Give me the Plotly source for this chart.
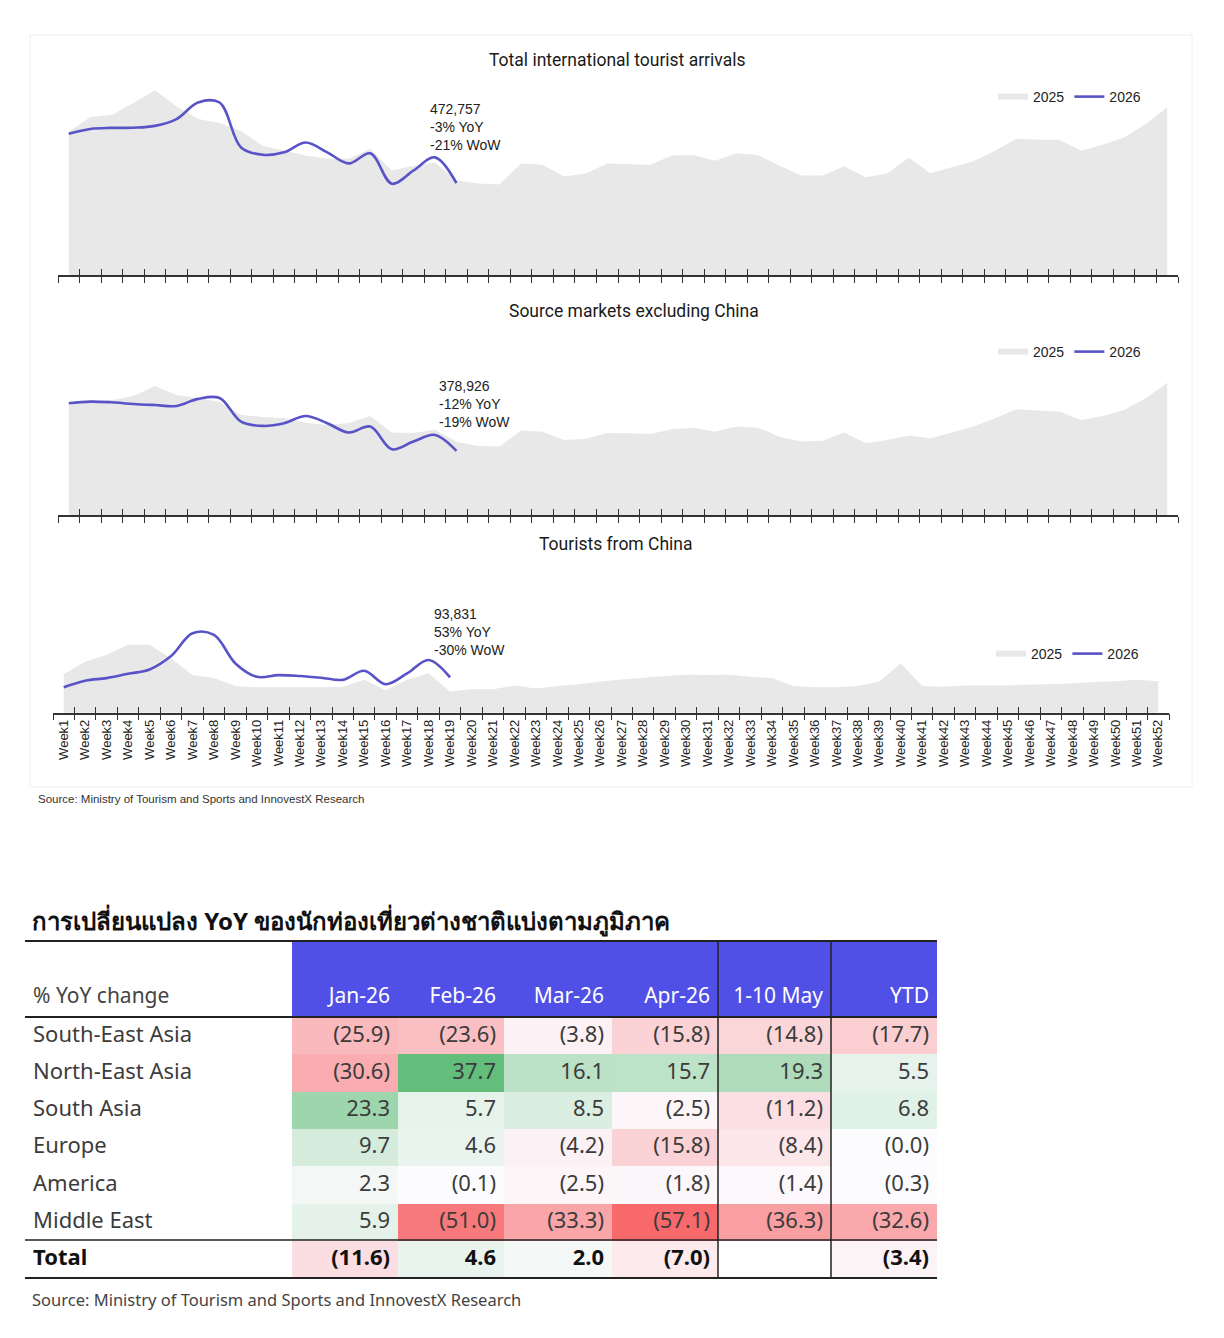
import math
import plotly.graph_objects as go

# the page body has an 8px margin, so the figure is drawn 8px in from the corner
OFF = 8
W, H = 1224 - 2 * OFF, 1338 - OFF

weeks = [f"Week{i}" for i in range(1, 53)]

# weekly arrivals
total_2025 = [722600, 795000, 805000, 863000, 926000, 848000, 785000, 766000, 727000, 655000,
              631000, 607000, 592000, 592000, 640000, 534000, 558000, 573000, 487000, 471000,
              466000, 569000, 563000, 505000, 520000, 568000, 565000, 563000, 607000, 610000,
              582000, 618000, 610000, 558000, 510000, 510000, 555000, 502000, 520000, 597000,
              521000, 550000, 579000, 631000, 689000, 684000, 684000, 631000, 660000, 695000,
              761000, 843000]
total_2026 = [714000, 737000, 742000, 743000, 752000, 785000, 866000, 866000, 647000, 611000,
              623000, 671000, 623000, 569000, 618000, 470000, 534000, 598427, 472757]

exchina_2025 = [634500, 647000, 662000, 684000, 740000, 690000, 673000, 651000, 579000, 568000,
                562000, 536000, 523000, 534000, 573000, 481000, 479000, 496000, 430598, 407000,
                403000, 492000, 486000, 440000, 446000, 479000, 477000, 473000, 499000, 508000,
                486000, 514000, 508000, 458000, 431000, 436000, 481000, 422000, 440000, 464000,
                449000, 481000, 514000, 561000, 611000, 603000, 597000, 551000, 573000, 607000,
                672000, 758000]
exchina_2026 = [644000, 653000, 649000, 640000, 634000, 629000, 668000, 673000, 542000, 518000,
                533000, 573000, 533000, 481000, 514000, 388000, 431000, 467810, 378926]

china_2025 = [101600, 130000, 146000, 169000, 169000, 138000, 99000, 92000, 74000, 71000,
              71000, 71000, 71000, 72000, 88000, 64000, 88000, 103000, 61327, 66000,
              66000, 75000, 68000, 74000, 78000, 84000, 89000, 93000, 97000, 100000,
              99000, 100000, 95000, 92000, 74000, 71000, 71000, 74000, 84000, 126000,
              74000, 72000, 75000, 75000, 75000, 77000, 78000, 80000, 83000, 85000,
              88000, 85000]
china_2026 = [70700, 86000, 92000, 102000, 112000, 143000, 196000, 192000, 126000, 95000,
              99000, 97000, 93000, 88000, 109000, 78000, 103000, 134044, 93831]

# YoY table
regions = ["South-East Asia", "North-East Asia", "South Asia", "Europe", "America", "Middle East"]
periods = ["Jan-26", "Feb-26", "Mar-26", "Apr-26", "1-10\u00a0May", "YTD"]
jan26 = [-25.9, -30.6, 23.3, 9.7, 2.3, 5.9]
feb26 = [-23.6, 37.7, 5.7, 4.6, -0.1, -51.0]
mar26 = [-3.8, 16.1, 8.5, -4.2, -2.5, -33.3]
apr26 = [-15.8, 15.7, -2.5, -15.8, -1.8, -57.1]
may26 = [-14.8, 19.3, -11.2, -8.4, -1.4, -36.3]
ytd26 = [-17.7, 5.5, 6.8, -0.0, -0.3, -32.6]
total_row = [-11.6, 4.6, 2.0, -7.0, None, -3.4]


def px_x(p):
    return (p - OFF) / W


def px_y(p):
    return 1 - (p - OFF) / H


GRAY = "#e8e8e8"
PURPLE = "#5853c6"
CHART_FONT = "Liberation Sans, Arial, sans-serif"

fig = go.Figure()

charts = [
    # title, 2025, 2026, label, y range, x px, y px (top, axis), title pos, note pos, legend pos
    ("Total international tourist arrivals", total_2025, total_2026,
     "472,757<br>-3% YoY<br>-21% WoW", [25000, 1000000], (58, 1178), (75, 275), (617, 60), (428, 99), (993, 97)),
    ("Source markets excluding China", exchina_2025, exchina_2026,
     "378,926<br>-12% YoY<br>-19% WoW", [23000, 1023000], (58, 1178), (335, 515), (634, 311), (437, 376), (993, 352)),
    ("Tourists from China", china_2025, china_2026,
     "93,831<br>53% YoY<br>-30% WoW", [12000, 245000], (53, 1169), (612, 712.7), (616, 544), (432, 604), (991, 654)),
]

annotations = []
for i, (title, y25, y26, note, yr, xpx, ypx, tpos, npos, lpos) in enumerate(charts, start=1):
    sfx = "" if i == 1 else str(i)
    lg = "legend" if i == 1 else f"legend{i}"
    fig.add_trace(go.Scatter(x=weeks, y=y25, name="2025", mode="none", fill="tozeroy",
                             fillcolor=GRAY, xaxis=f"x{sfx}", yaxis=f"y{sfx}", legend=lg,
                             hoverinfo="skip"))
    fig.add_trace(go.Scatter(x=weeks[:len(y26)], y=y26, name="2026", mode="lines",
                             line=dict(color=PURPLE, width=2.6, shape="spline", smoothing=1.0),
                             xaxis=f"x{sfx}", yaxis=f"y{sfx}", legend=lg))
    # invisible trace so the overlay axis (upper half of the ticks) gets drawn
    fig.add_trace(go.Scatter(x=[0], y=[yr[0]], mode="markers", marker=dict(opacity=0),
                             xaxis=f"x{i + 3}", yaxis=f"y{sfx}", showlegend=False,
                             hoverinfo="skip"))
    xdom = [px_x(xpx[0]), px_x(xpx[1])]
    ydom = [px_y(ypx[1]), px_y(ypx[0])]
    fig.layout[f"xaxis{sfx}"] = dict(
        domain=xdom, anchor=f"y{sfx}", type="category", range=[-0.5, 51.5],
        tickson="boundaries", ticks="outside", ticklen=6, tickwidth=1.3, tickcolor="#333",
        showline=True, linecolor="#333", linewidth=1.5, showgrid=False, zeroline=False,
        showticklabels=(i == 3), tickangle=-90,
        tickfont=dict(family=CHART_FONT, size=13, color="#222"),
    )
    fig.layout[f"xaxis{i + 3}"] = dict(
        overlaying=f"x{sfx}", anchor=f"y{sfx}", type="linear", range=[-0.5, 51.5],
        tick0=-0.5, dtick=1, ticks="inside", ticklen=6, tickwidth=1.3, tickcolor="#333",
        showline=False, showgrid=False, zeroline=False, showticklabels=False,
    )
    fig.layout[f"yaxis{sfx}"] = dict(domain=ydom, anchor=f"x{sfx}", range=yr, visible=False,
                                     showgrid=False)
    fig.layout[lg] = dict(
        orientation="h", x=px_x(lpos[0]), y=px_y(lpos[1]), xanchor="left", yanchor="middle",
        bgcolor="rgba(0,0,0,0)", font=dict(family=CHART_FONT, size=14, color="#222"),
        itemwidth=30, tracegroupgap=0,
    )
    annotations.append(dict(
        text=title, xref="paper", yref="paper", x=px_x(tpos[0]), y=px_y(tpos[1]),
        xanchor="center", yanchor="middle", showarrow=False,
        font=dict(family="Roboto, sans-serif", size=17.5, color="#1a1a1a"),
    ))
    annotations.append(dict(
        text=note, xref="paper", yref="paper", x=px_x(npos[0]), y=px_y(npos[1]),
        xanchor="left", yanchor="top", align="left", showarrow=False,
        font=dict(family=CHART_FONT, size=14, color="#222"),
    ))

annotations.append(dict(
    text="Source: Ministry of Tourism and Sports and InnovestX Research",
    xref="paper", yref="paper", x=px_x(36), y=px_y(799), xanchor="left", yanchor="middle",
    showarrow=False, font=dict(family=CHART_FONT, size=11.5, color="#333"),
))

# ---- table ----
cols = [jan26, feb26, mar26, apr26, may26, ytd26]
all_vals = [v for c in cols for v in c] + [v for v in total_row if v is not None]
lo, hi = min(all_vals), max(all_vals)


def fmt(v):
    if v is None:
        return ""
    if math.copysign(1, v) < 0:
        return f"({abs(v):.1f})"
    return f"{v:.1f}"


def mix(c1, c2, t):
    return "rgb(%d,%d,%d)" % tuple(round(a + (b - a) * t) for a, b in zip(c1, c2))


def cell_color(v):
    white = (252, 252, 255)
    if v is None:
        return "white"
    if v < 0:
        return mix(white, (248, 105, 107), v / lo)
    return mix(white, (99, 190, 123), v / hi)


n = len(regions)
aligns = ["left"] + ["right"] * len(periods)
widths = [267, 106, 106, 108, 106, 113, 106]
TFONT = "Noto Sans, sans-serif"
NOLINE = dict(width=0, color="rgba(0,0,0,0)")

fig.add_trace(go.Table(
    domain=dict(x=[px_x(25), px_x(937)], y=[px_y(1244), px_y(942)]),
    columnwidth=widths,
    header=dict(
        values=[["", "% YoY change"]] + [["", p] for p in periods],
        fill_color=[["white", "white"]] + [["#5050e6", "#5050e6"] for _ in periods],
        font=dict(family=TFONT, size=21, color=["#444"] + ["white"] * len(periods)),
        align=aligns, height=37.5, line=NOLINE,
    ),
    cells=dict(
        values=[regions] + [[fmt(v) for v in c] for c in cols],
        fill_color=[["white"] * n] + [[cell_color(v) for v in c] for c in cols],
        font=dict(family=TFONT, size=22, color="#3c3c3c"),
        align=aligns, height=37.3, line=NOLINE,
    ),
))

# total row in bold, drawn as the header of a second table
fig.add_trace(go.Table(
    domain=dict(x=[px_x(25), px_x(937)], y=[px_y(1292), px_y(1240.8)]),
    columnwidth=widths,
    header=dict(
        values=["Total"] + [fmt(v) for v in total_row],
        fill_color=["white"] + [cell_color(v) for v in total_row],
        font=dict(family=TFONT, size=22, color="#111", weight="bold"),
        align=aligns, height=37.3, line=NOLINE,
    ),
))

annotations.append(dict(
    text="<b>การเปลี่ยนแปลง YoY ของนักท่องเที่ยวต่างชาติแบ่งตามภูมิภาค</b>",
    xref="paper", yref="paper", x=px_x(30), y=px_y(921), xanchor="left", yanchor="middle",
    showarrow=False, font=dict(family=TFONT, size=24, color="#111"),
))
annotations.append(dict(
    text="Source: Ministry of Tourism and Sports and InnovestX Research",
    xref="paper", yref="paper", x=px_x(30), y=px_y(1299), xanchor="left", yanchor="middle",
    showarrow=False, font=dict(family=TFONT, size=16.5, color="#444"),
))


def hline(y, x0, x1, w):
    return dict(type="line", xref="paper", yref="paper", x0=px_x(x0), x1=px_x(x1),
                y0=px_y(y), y1=px_y(y), line=dict(color="#222", width=w))


def vline(x, y0, y1, w):
    return dict(type="line", xref="paper", yref="paper", x0=px_x(x), x1=px_x(x),
                y0=px_y(y0), y1=px_y(y1), line=dict(color="#222", width=w))


shapes = [
    dict(type="rect", xref="paper", yref="paper", x0=px_x(30), x1=px_x(1192),
         y0=px_y(787), y1=px_y(35), line=dict(color="#eeeeee", width=1), layer="below"),
    hline(941, 25, 937, 2),
    hline(1017, 25, 937, 2),
    hline(1240, 25, 937, 1.5),
    hline(1278, 25, 937, 2),
    vline(718, 942, 1278, 1.5),
    vline(831, 942, 1278, 1.5),
]

fig.update_layout(
    width=W, height=H, margin=dict(l=0, r=0, t=0, b=0),
    paper_bgcolor="white", plot_bgcolor="white",
    annotations=annotations, shapes=shapes, showlegend=True,
)

fig.write_html("out.html")
